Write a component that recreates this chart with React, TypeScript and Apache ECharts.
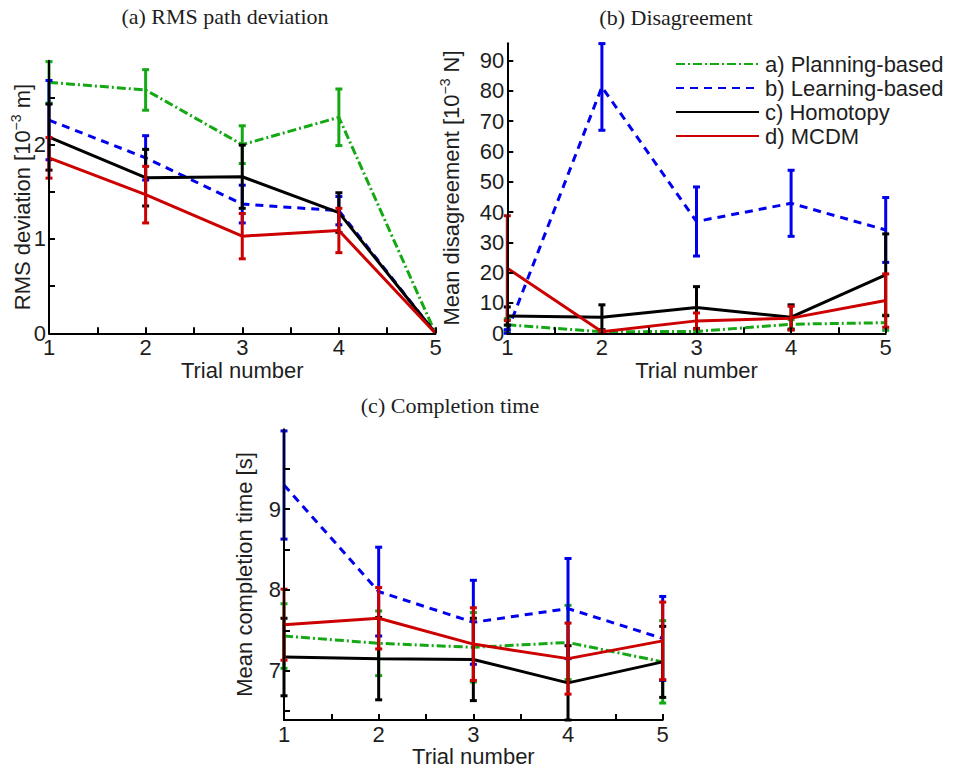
import React, { useEffect, useRef } from "react";
import * as echarts from "echarts";

// ---------- data ----------
const trials = [1, 2, 3, 4, 5];
const methodNames = ["a) Planning-based", "b) Learning-based", "c) Homotopy", "d) MCDM"];

// (a) RMS path deviation [1e-3 m]
const rmsPlanning = [2.66, 2.58, 2.0, 2.29, 0];
const rmsPlanningErr = [0.22, 0.215, 0.2, 0.3, 0];
const rmsLearning = [2.26, 1.86, 1.37, 1.3, 0];
const rmsLearningErr = [0.42, 0.235, 0.2, 0.15, 0];
const rmsHomotopy = [2.08, 1.65, 1.66, 1.28, 0];
const rmsHomotopyErr = [0.35, 0.3, 0.335, 0.21, 0];
const rmsMcdm = [1.86, 1.47, 1.03, 1.09, 0];
const rmsMcdmErr = [0.215, 0.3, 0.24, 0.235, 0];

// (b) Mean disagreement [1e-3 N]
const disPlanning = [2.8, 0.5, 0.6, 3.0, 3.5];
const disPlanningErr = [2.0, 0.5, 0.5, 1.5, 2.5];
const disLearning = [0.6, 81.3, 36.9, 42.9, 34.1];
const disLearningErr = [0.6, 14.3, 11.4, 10.9, 10.7];
const disHomotopy = [5.7, 5.3, 8.5, 5.3, 19.3];
const disHomotopyErr = [3.0, 4.1, 6.9, 4.1, 13.5];
const disMcdm = [21.5, 0.5, 4.1, 5.0, 10.8];
const disMcdmErr = [17.3, 0.5, 2.6, 3.9, 8.8];

// (c) Mean completion time [s]
const timePlanning = [7.43, 7.34, 7.29, 7.35, 7.11];
const timePlanningErr = [0.4, 0.4, 0.43, 0.46, 0.51];
const timeLearning = [9.3, 7.98, 7.6, 7.77, 7.4];
const timeLearningErr = [0.67, 0.55, 0.52, 0.62, 0.52];
const timeHomotopy = [7.17, 7.15, 7.14, 6.85, 7.11];
const timeHomotopyErr = [0.48, 0.51, 0.51, 0.46, 0.44];
const timeMcdm = [7.57, 7.65, 7.33, 7.15, 7.37];
const timeMcdmErr = [0.44, 0.38, 0.45, 0.44, 0.48];

// axis ticks / labels
const xLabels = [1, 2, 3, 4, 5];
const rmsTicks = [0, 0.5, 1, 1.5, 2, 2.5];
const rmsLabels = [0, 1, 2];
const disTicks = [0, 10, 20, 30, 40, 50, 60, 70, 80, 90];
const disLabels = [0, 10, 20, 30, 40, 50, 60, 70, 80, 90];
const timeTicks = [6.5, 7, 7.5, 8, 8.5, 9, 9.5];
const timeLabels = [7, 8, 9];
const yRanges = [
  [0, 2.89],
  [0, 95.7],
  [6.39, 9.99],
];

// ---------- styling ----------
const SANS = "'Liberation Sans', Arial, Helvetica, sans-serif";
const SERIF = "'Liberation Serif', 'Times New Roman', serif";
const TXT = "#1e1e1e";
const methodStyles = [
  { color: "#14a814", type: [9, 3, 2, 3] },
  { color: "#0000ee", type: [8, 6] },
  { color: "#000000", type: "solid" },
  { color: "#cc0000", type: "solid" },
];

const grids = [
  { left: 49, top: 60.7, width: 386.5, height: 272.6 },
  { left: 507.3, top: 43.3, width: 378.4, height: 290 },
  { left: 284, top: 429.3, width: 378.7, height: 290.7 },
];

const panelData = [
  [
    [rmsPlanning, rmsPlanningErr],
    [rmsLearning, rmsLearningErr],
    [rmsHomotopy, rmsHomotopyErr],
    [rmsMcdm, rmsMcdmErr],
  ],
  [
    [disPlanning, disPlanningErr],
    [disLearning, disLearningErr],
    [disHomotopy, disHomotopyErr],
    [disMcdm, disMcdmErr],
  ],
  [
    [timePlanning, timePlanningErr],
    [timeLearning, timeLearningErr],
    [timeHomotopy, timeHomotopyErr],
    [timeMcdm, timeMcdmErr],
  ],
];
const yTickSets = [rmsTicks, disTicks, timeTicks];
const yLabelSets = [rmsLabels, disLabels, timeLabels];

function makeErrRender(color: string) {
  return (params: any, api: any) => {
    const x = api.value(0);
    const lo = api.value(1);
    const hi = api.value(2);
    const pTop = api.coord([x, hi]);
    const pBot = api.coord([x, lo]);
    const w = 3.5;
    const style = { stroke: color, lineWidth: 3, fill: "none" };
    return {
      type: "group",
      children: [
        { type: "line", shape: { x1: pTop[0], y1: pTop[1], x2: pBot[0], y2: pBot[1] }, style },
        { type: "line", shape: { x1: pTop[0] - w, y1: pTop[1], x2: pTop[0] + w, y2: pTop[1] }, style },
        { type: "line", shape: { x1: pBot[0] - w, y1: pBot[1], x2: pBot[0] + w, y2: pBot[1] }, style },
      ],
    };
  };
}

function buildOption() {
  const series: any[] = [];
  panelData.forEach((panel, p) => {
    panel.forEach(([vals, errs], m) => {
      const st = methodStyles[m];
      series.push({
        type: "custom",
        name: `err-${p}-${m}`,
        xAxisIndex: p,
        yAxisIndex: p,
        silent: true,
        z: 2 + m * 2,
        encode: { x: 0, y: [1, 2] },
        data: trials
          .map((t, i) => [t, vals[i] - errs[i], vals[i] + errs[i]])
          .filter((d) => d[2] > d[1]),
        renderItem: makeErrRender(st.color),
      });
      series.push({
        type: "line",
        name: methodNames[m],
        xAxisIndex: p,
        yAxisIndex: p,
        z: 3 + m * 2,
        symbol: "none",
        showSymbol: false,
        data: trials.map((t, i) => [t, vals[i]]),
        lineStyle: { color: st.color, width: 3, type: st.type, cap: "butt" },
        itemStyle: { color: st.color },
        emphasis: { disabled: true },
      });
    });
  });

  const axisLine = { show: true, onZero: false, lineStyle: { color: "#000", width: 2 } };
  const tickStyle = { show: true, inside: true, length: 6, lineStyle: { color: "#000", width: 2 } };
  const labelBase = { fontSize: 22, fontFamily: SANS, color: TXT };
  const onlyIn = (list: number[]) => (v: number) =>
    list.some((l) => Math.abs(l - v) < 1e-6) ? String(v) : "";

  const xAxis = grids.map((_, p) => ({
    type: "value",
    gridIndex: p,
    min: 1,
    max: 5,
    interval: 0.5,
    z: 10,
    axisLine,
    axisTick: { ...tickStyle },
    axisLabel: {
      ...labelBase,
      margin: 3,
      formatter: onlyIn(xLabels),
      showMinLabel: true,
      showMaxLabel: true,
    },
    splitLine: { show: false },
    name: "Trial number",
    nameLocation: "middle",
    nameGap: 25,
    nameTextStyle: { fontSize: 22, fontFamily: SANS, color: TXT },
  }));

  const yAxis = grids.map((_, p) => ({
    type: "value",
    gridIndex: p,
    min: yRanges[p][0],
    max: yRanges[p][1],
    z: 10,
    axisLine,
    axisTick: { ...tickStyle, customValues: yTickSets[p] },
    axisLabel: {
      ...labelBase,
      margin: 3,
      customValues: yLabelSets[p],
      formatter: onlyIn(yLabelSets[p]),
      showMinLabel: true,
      showMaxLabel: true,
    },
    splitLine: { show: false },
  }));

  const rich = (main: number) => ({
    n: { fontSize: main, fontFamily: SANS, color: TXT, lineHeight: 26 },
    s: { fontSize: 14, fontFamily: SANS, color: TXT, lineHeight: 14, verticalAlign: "top" },
  });

  const titleText = (text: string, x: number, y: number) => ({
    type: "text",
    x,
    y,
    style: {
      text,
      fontSize: 22,
      fontFamily: SERIF,
      fill: TXT,
      align: "center",
      verticalAlign: "middle",
    },
  });

  const yName = (text: string, x: number, y: number) => ({
    type: "text",
    x,
    y,
    rotation: Math.PI / 2,
    style: {
      text,
      rich: rich(22),
      align: "center",
      verticalAlign: "middle",
      fill: TXT,
    },
  });

  return {
    animation: false,
    backgroundColor: "#ffffff",
    grid: grids.map((g) => ({ ...g, containLabel: false, outerBoundsMode: "none" })),
    xAxis,
    yAxis,
    legend: {
      data: methodNames,
      orient: "vertical",
      left: 675,
      top: 53,
      padding: 0,
      itemWidth: 83,
      itemHeight: 12,
      itemGap: 2,
      selectedMode: false,
      itemStyle: { opacity: 0, borderWidth: 0 },
      textStyle: { fontSize: 22, fontFamily: SANS, color: TXT, padding: [0, 0, 0, 1], lineHeight: 22 },
    },
    graphic: [
      titleText("(a) RMS path deviation", 225, 16),
      titleText("(b) Disagreement", 676, 17),
      titleText("(c) Completion time", 450, 405),
      yName("{n|RMS deviation [10}{s|\u22123}{n| m]}", 22, 197),
      yName("{n|Mean disagreement [10}{s|\u22123}{n| N]}", 451, 188),
      yName("{n|Mean completion time [s]}", 244, 574.5),
    ],
    series,
  };
}

export default function App() {
  const ref = useRef<HTMLDivElement>(null);
  useEffect(() => {
    if (!ref.current) return;
    const chart = echarts.init(ref.current, null, { renderer: "svg" });
    chart.setOption(buildOption() as any);
    return () => chart.dispose();
  }, []);
  return (
    <div
      ref={ref}
      style={{ position: "absolute", left: 0, top: 0, width: 956, height: 770, background: "#fff" }}
    />
  );
}
